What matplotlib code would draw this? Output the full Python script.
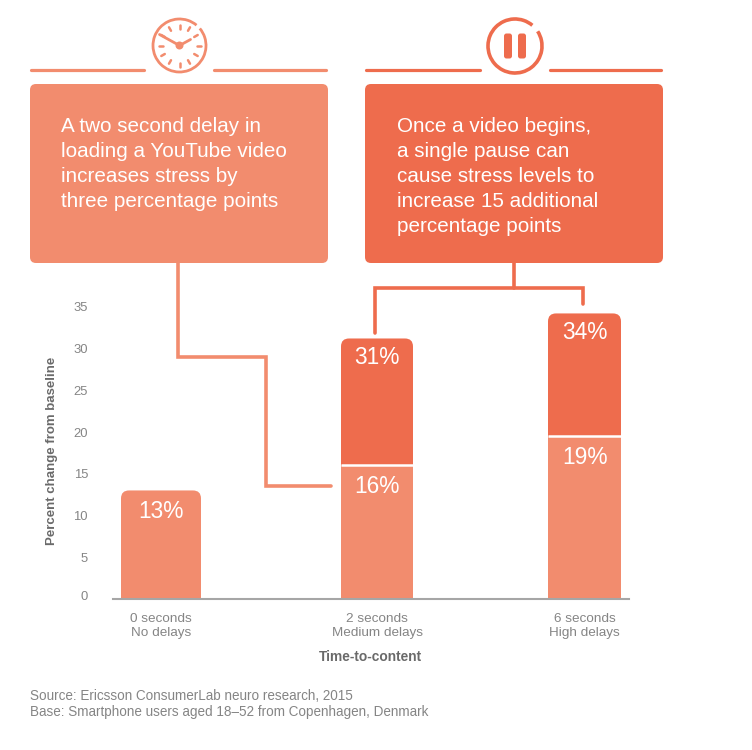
import numpy as np
from matplotlib import pyplot as plt
from matplotlib.patches import Circle, Arc, FancyBboxPatch
from matplotlib.transforms import Affine2D

plt.rcParams['font.family'] = ['Liberation Sans', 'DejaVu Sans']

# data
categories = ['0 seconds\nNo delays', '2 seconds\nMedium delays', '6 seconds\nHigh delays']
lower_values = [13, 16, 19.5]
upper_values = [0, 15.2, 14.7]
lower_labels = ['13%', '16%', '19%']
upper_labels = ['', '31%', '34%']
y_ticks = [0, 5, 10, 15, 20, 25, 30, 35]
left_lines = ['A two second delay in', 'loading a YouTube video',
              'increases stress by', 'three percentage points']
right_lines = ['Once a video begins,', 'a single pause can',
               'cause stress levels to', 'increase 15 additional',
               'percentage points']
source_lines = ['Source: Ericsson ConsumerLab neuro research, 2015',
                'Base: Smartphone users aged 18\u201352 from Copenhagen, Denmark']

# layout, all in pixels of the 752x750 picture
W, H = 752, 750
bar_centers = [161, 377, 584.5]
bar_widths = [80, 72, 73]
LIGHT = '#f28c6e'
DARK = '#ee6c4d'
GREY = '#858585'
PX_PER_UNIT = 8.35
BASE_Y = 599

fig = plt.figure(figsize=(W / 100, H / 100), dpi=100, facecolor='white')

# overlay in pixel coords for boxes, connectors and icons
bg = fig.add_axes([0, 0, 1, 1])
bg.set_xlim(0, W)
bg.set_ylim(H, 0)
bg.axis('off')


def seg(xs, ys, color, lw=2.3):
    bg.plot(xs, ys, color=color, lw=lw, solid_capstyle='round', solid_joinstyle='miter')


# top rules
seg([31, 144], [70, 70], LIGHT)
seg([214, 326], [70, 70], LIGHT)
seg([366, 480], [70, 70], DARK)
seg([550, 661], [70, 70], DARK)

# text boxes
for x0, c in [(30, LIGHT), (365, DARK)]:
    bg.add_patch(FancyBboxPatch((x0 + 6, 90), 286, 167, boxstyle='round,pad=6,rounding_size=6',
                                fc=c, ec='none'))
for i, s in enumerate(left_lines):
    bg.text(61, 126.5 + i * 25, s, color='white', fontsize=14.9, va='center', ha='left')
for i, s in enumerate(right_lines):
    bg.text(397, 126.5 + i * 25, s, color='white', fontsize=14.9, va='center', ha='left')

# connectors
seg([178, 178, 266, 266, 331], [263, 357, 357, 486, 486], LIGHT, 2.6)
seg([514, 514], [263, 288], DARK, 2.6)
seg([375, 375, 583, 583], [333, 288, 288, 304], DARK, 2.6)

# clock icon
cx, cy = 179.5, 45.5
bg.add_patch(Arc((cx, cy), 53, 53, theta1=-40, theta2=310, color=LIGHT, lw=2))
for a in np.arange(0, 360, 30):
    ca, sa = np.cos(np.radians(a)), np.sin(np.radians(a))
    seg([cx + 17 * ca, cx + 21 * ca], [cy + 17 * sa, cy + 21 * sa], LIGHT, 1.8)
bg.add_patch(Circle((cx, cy), 4, fc=LIGHT, ec='none'))
seg([cx, cx - 20], [cy, cy - 11], LIGHT, 2)
seg([cx, cx + 11], [cy, cy - 6], LIGHT, 2)

# pause icon
px, py = 515, 46
bg.add_patch(Arc((px, py), 54, 54, theta1=-33, theta2=310, color=DARK, lw=2.6))
for bx in [508, 522]:
    bg.add_patch(FancyBboxPatch((bx - 1.5, 36), 3, 20, boxstyle='round,pad=2.5,rounding_size=2.5',
                                fc=DARK, ec='none'))

# the bar chart, x in pixels so bar widths stay simple
x0, x1 = 113, 629
y_top = 36
ax = fig.add_axes([x0 / W, (H - BASE_Y) / H, (x1 - x0) / W, y_top * PX_PER_UNIT / H])
ax.patch.set_alpha(0)
ax.set_xlim(x0, x1)
ax.set_ylim(0, y_top)

lower = ax.bar(bar_centers, lower_values, width=bar_widths, color=LIGHT, lw=0)
upper = ax.bar(bar_centers, upper_values, width=bar_widths, bottom=lower_values, color=DARK, lw=0)

# rounded top corners on whatever sits on top of each stack
for lo, up, lv, uv in zip(lower, upper, lower_values, upper_values):
    top = up if uv > 0 else lo
    clip = FancyBboxPatch((top.get_x(), -5), top.get_width(), lv + uv + 5,
                          boxstyle='round,pad=0,rounding_size=8',
                          mutation_aspect=1 / PX_PER_UNIT, transform=ax.transData)
    top.set_clip_path(clip)
    # white rule between the two parts
    if uv > 0:
        ax.plot([lo.get_x(), lo.get_x() + lo.get_width()], [lv, lv], color='white', lw=1.8,
                solid_capstyle='butt')

for x, lv, uv, ll, ul in zip(bar_centers, lower_values, upper_values, lower_labels, upper_labels):
    ax.annotate(ll, (x, lv), xytext=(0, -21.5), textcoords='offset pixels', ha='center', va='center',
                color='white', fontsize=16.4)
    if ul:
        ax.annotate(ul, (x, lv + uv), xytext=(0, -19.5), textcoords='offset pixels', ha='center', va='center',
                    color='white', fontsize=16.4)

for s in ['top', 'right', 'left']:
    ax.spines[s].set_visible(False)
ax.spines['bottom'].set_color('#a6a6a6')
ax.spines['bottom'].set_linewidth(1.5)
ax.set_yticks(y_ticks)
ax.set_xticks(bar_centers)
ax.set_xticklabels(categories, fontsize=9.7, color=GREY, linespacing=1.25)
ax.tick_params(axis='x', length=0, pad=10)
ax.tick_params(axis='y', length=0, pad=18, labelsize=9.4, labelcolor=GREY)

# the 0 sits a little above the baseline in the original
zero_label = ax.get_yticklabels()[0]
zero_label.set_transform(zero_label.get_transform() + Affine2D().translate(0, 3))

fig.text(370 / W, 1 - 657 / H, 'Time-to-content', fontsize=9.9, fontweight='bold', color='#6a6a6a',
         ha='center', va='center')
fig.text(52 / W, 1 - 451 / H, 'Percent change from baseline', fontsize=9.5, fontweight='bold',
         color='#6a6a6a', rotation=90, ha='center', va='center')
for i, s in enumerate(source_lines):
    fig.text(30 / W, 1 - (696 + i * 16) / H, s, fontsize=9.75, color=GREY, ha='left', va='center')

fig.savefig('out.png', dpi=100)
